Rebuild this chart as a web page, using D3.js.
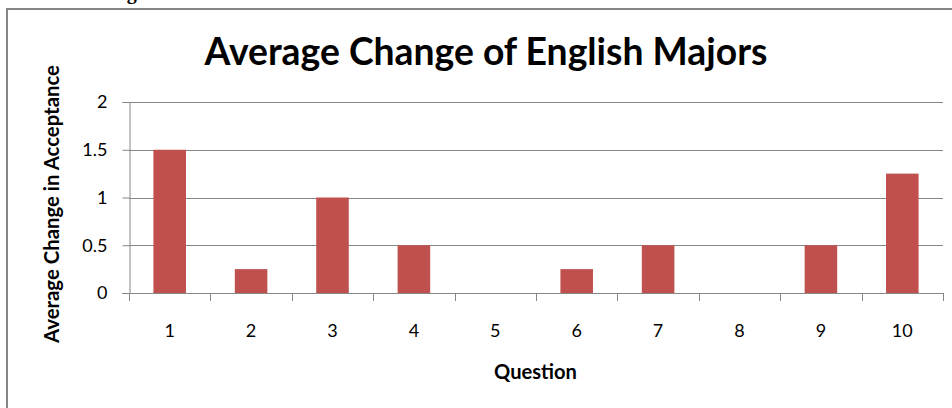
<!DOCTYPE html>
<html>
<head>
<meta charset="utf-8">
<script src="https://cdn.jsdelivr.net/npm/d3@7"></script>
<style>
  html, body { margin: 0; padding: 0; background: #fff; overflow: hidden; }
  svg { display: block; }
</style>
</head>
<body>
<svg id="chart" width="952" height="408"></svg>
<script>
// Chart data
const questions = ["1", "2", "3", "4", "5", "6", "7", "8", "9", "10"];
const avgChange = [1.5, 0.25, 1, 0.5, 0, 0.25, 0.5, 0, 0.5, 1.25];
const yTicks = [0, 0.5, 1, 1.5, 2];
const yTickLabels = ["0", "0.5", "1", "1.5", "2"];

const chartTitle = "Average Change of English Majors";
const xTitle = "Question";
const yTitle = "Average Change in Acceptance";
const headingAbove = "Change Results";

const svg = d3.select("#chart");
const font = "Lato, 'Open Sans', sans-serif";

const plot = { left: 129, right: 943, top: 102, bottom: 293 };

const x = d3.scaleBand()
  .domain(questions)
  .range([plot.left, plot.right])
  .paddingInner(0.6)
  .paddingOuter(0.3);

const y = d3.scaleLinear()
  .domain([0, 2])
  .range([plot.bottom, plot.top]);

// Heading of the page section, running off the top edge
svg.append("text")
  .attr("x", 80)
  .attr("y", -1.5)
  .attr("font-family", "'Liberation Serif', 'Times New Roman', serif")
  .attr("font-weight", "bold")
  .attr("font-size", 20)
  .attr("fill", "#000")
  .text(headingAbove);

// Chart frame
svg.append("rect")
  .attr("x", 7)
  .attr("y", 9)
  .attr("width", 1000)
  .attr("height", 500)
  .attr("fill", "#fff")
  .attr("stroke", "#868686")
  .attr("stroke-width", 2);

// Horizontal gridlines
svg.append("g")
  .selectAll("line")
  .data(yTicks)
  .join("line")
  .attr("x1", plot.left)
  .attr("x2", plot.right)
  .attr("y1", d => Math.round(y(d)) + 0.5)
  .attr("y2", d => Math.round(y(d)) + 0.5)
  .attr("stroke", "#868686")
  .attr("stroke-width", 1);

// Y axis
const yAxis = d3.axisLeft(y)
  .tickValues(yTicks)
  .tickFormat((d, i) => yTickLabels[i])
  .tickSize(7)
  .tickPadding(15);

const yg = svg.append("g")
  .attr("transform", `translate(${plot.left + 0.5},0)`)
  .call(yAxis);
yg.select(".domain").attr("stroke", "#868686");
yg.selectAll(".tick line").attr("stroke", "#868686");
yg.selectAll(".tick text")
  .attr("font-family", font)
  .attr("font-size", 18)
  .attr("fill", "#000");

// Bars
svg.append("g")
  .selectAll("rect")
  .data(questions.map((q, i) => ({ q, v: avgChange[i] })))
  .join("rect")
  .attr("x", d => x(d.q))
  .attr("width", x.bandwidth())
  .attr("y", d => y(d.v))
  .attr("height", d => y(0) - y(d.v))
  .attr("fill", "#C0504D");

// X axis line and category boundary ticks
const xg = svg.append("g");
xg.append("line")
  .attr("x1", plot.left - 7)
  .attr("x2", plot.right)
  .attr("y1", Math.round(y(0)) + 0.5)
  .attr("y2", Math.round(y(0)) + 0.5)
  .attr("stroke", "#868686");

const bounds = d3.range(questions.length + 1).map(i => plot.left + i * (plot.right - plot.left) / questions.length);
xg.selectAll("line.tk")
  .data(bounds)
  .join("line")
  .attr("class", "tk")
  .attr("x1", d => Math.round(d) + 0.5)
  .attr("x2", d => Math.round(d) + 0.5)
  .attr("y1", y(0))
  .attr("y2", y(0) + 8)
  .attr("stroke", "#868686");

xg.selectAll("text")
  .data(questions)
  .join("text")
  .attr("x", d => x(d) + x.bandwidth() / 2)
  .attr("y", 337)
  .attr("text-anchor", "middle")
  .attr("font-family", font)
  .attr("font-size", 18)
  .attr("fill", "#000")
  .text(d => d);

// Title
const t = svg.append("text")
  .attr("x", 486)
  .attr("y", 65)
  .attr("text-anchor", "middle")
  .attr("font-family", font)
  .attr("font-weight", "bold")
  .attr("font-size", 32)
  .attr("fill", "#000")
  .text(chartTitle);
fitWidth(t, 563, 32);

// X axis title
const xt = svg.append("text")
  .attr("x", 535.5)
  .attr("y", 379)
  .attr("text-anchor", "middle")
  .attr("font-family", font)
  .attr("font-weight", "bold")
  .attr("font-size", 17)
  .attr("fill", "#000")
  .text(xTitle);
fitWidth(xt, 83, 17);

// Y axis title
const yt = svg.append("text")
  .attr("transform", "translate(59,204) rotate(-90)")
  .attr("text-anchor", "middle")
  .attr("font-family", font)
  .attr("font-weight", "bold")
  .attr("font-size", 17)
  .attr("fill", "#000")
  .text(yTitle);
fitWidth(yt, 278, 17);

// Scale a label's font size so that it spans the intended width
function fitWidth(sel, target, size) {
  const w = sel.node().getComputedTextLength();
  if (w > 0) sel.attr("font-size", (size * target / w).toFixed(2));
}
</script>
</body>
</html>
